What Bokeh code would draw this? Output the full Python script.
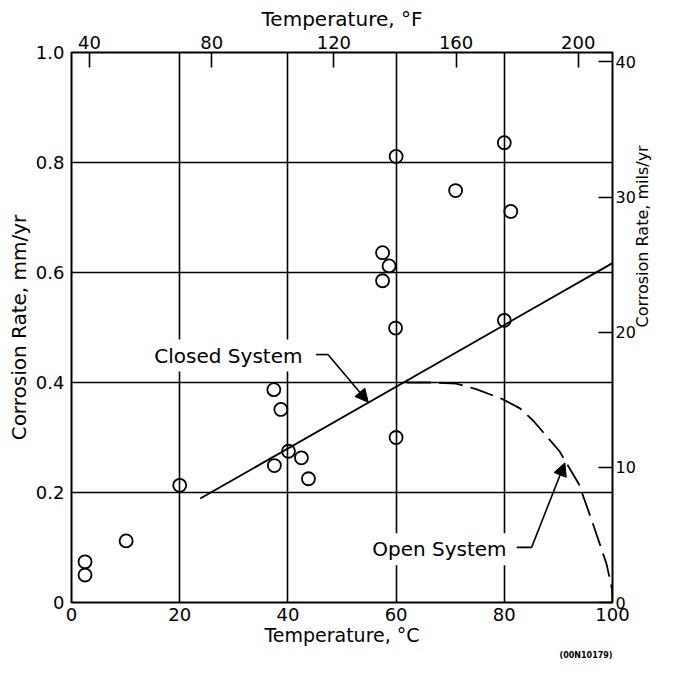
import math
from bokeh.plotting import figure
from bokeh.models import (Range1d, LinearAxis, FixedTicker, Label, Arrow, NormalHead, Title)
from bokeh.embed import file_html
from bokeh.resources import INLINE

# ---- data ----
temp_c = [2.5, 2.5, 10.1, 20.0, 37.5, 40.1, 42.5, 43.8, 37.4, 38.7, 60.0,
          60.0, 80.0, 71.0, 81.2, 57.5, 58.7, 57.5, 59.9, 80.0]
rate_mm = [0.074, 0.050, 0.112, 0.213, 0.249, 0.275, 0.263, 0.225, 0.387, 0.351, 0.300,
           0.811, 0.836, 0.749, 0.711, 0.636, 0.612, 0.585, 0.499, 0.513]

closed_x = [23.8, 100.0]
closed_y = [0.189, 0.617]

open_x = [62.0, 67.0, 71.1, 74.8, 79.6, 82.9, 85.4, 90.2, 93.8, 96.2, 98.9, 99.9, 100.0]
open_y = [0.400, 0.400, 0.398, 0.388, 0.370, 0.353, 0.330, 0.275, 0.215, 0.1485, 0.070, 0.025, 0.0]

x_ticks = [0, 20, 40, 60, 80, 100]
y_ticks = [0, 0.2, 0.4, 0.6, 0.8, 1.0]
y_labels = {0: "0", 0.2: "0.2", 0.4: "0.4", 0.6: "0.6", 0.8: "0.8", 1: "1.0"}
f_ticks = [40, 80, 120, 160, 200]
mils_ticks = [0, 10, 20, 30, 40]

FONT = "DejaVu Sans"

p = figure(width=664, height=659, output_backend="svg", toolbar_location=None,
           x_range=Range1d(0, 100), y_range=Range1d(0, 1.0),
           min_border_left=71, min_border_right=41, min_border_top=52, min_border_bottom=54,
           background_fill_color="white", border_fill_color="white")
p.outline_line_color = "black"
p.outline_line_width = 2
p.outline_line_alpha = 1

p.extra_x_ranges = {"F": Range1d(34.1, 211.2)}
p.extra_y_ranges = {"mils": Range1d(0, 40.7)}

xa = p.xaxis[0]
xa.ticker = FixedTicker(ticks=x_ticks)
xa.axis_label = "Temperature, °C"
ya = p.yaxis[0]
ya.ticker = FixedTicker(ticks=y_ticks)
ya.major_label_overrides = y_labels
ya.axis_label = "Corrosion Rate, mm/yr"

top = LinearAxis(x_range_name="F", ticker=FixedTicker(ticks=f_ticks),
                 axis_label="Temperature, °F")
right = LinearAxis(y_range_name="mils", ticker=FixedTicker(ticks=mils_ticks),
                   axis_label="Corrosion Rate, mils/yr")
p.add_layout(top, "above")
p.add_layout(right, "right")

for ax in [xa, ya, top, right]:
    ax.axis_line_color = None
    ax.minor_tick_line_color = None
    ax.major_tick_out = 0
    ax.major_tick_in = 0
    ax.major_tick_line_color = "black"
    ax.major_tick_line_width = 1.6
    ax.major_label_text_font = FONT
    ax.major_label_text_font_size = "18px"
    ax.major_label_text_color = "black"
    ax.axis_label_text_font = FONT
    ax.axis_label_text_font_size = "20px"
    ax.axis_label_text_font_style = "normal"
    ax.axis_label_text_color = "black"

ya.major_label_standoff = 7
ya.axis_label_standoff = 2
xa.major_label_standoff = 5
xa.axis_label_standoff = 0
xa.axis_label_text_font_size = "19px"
top.major_tick_in = 15
top.major_label_standoff = 4
top.axis_label_standoff = 2
right.major_tick_in = 14
right.major_label_standoff = 3
right.axis_label_standoff = 4
right.major_label_text_font_size = "16px"
right.axis_label_text_font_size = "16px"
right.axis_label_orientation = math.pi / 2

# footnote below the bottom axis
p.add_layout(Title(text="(00N10179)", align="right", text_font=FONT, text_font_size="8px",
                   text_font_style="bold", text_color="black", standoff=0), "below")

# grid
p.xgrid.ticker = FixedTicker(ticks=x_ticks[1:-1])
p.ygrid.ticker = FixedTicker(ticks=y_ticks[1:-1])
for g in [p.xgrid[0], p.ygrid[0]]:
    g.grid_line_color = "black"
    g.grid_line_width = 1.6
    g.grid_line_alpha = 1

# lines
p.line(closed_x, closed_y, line_color="black", line_width=1.8)
p.line(open_x, open_y, line_color="black", line_width=1.8, line_dash="24 8")

# points
p.scatter(temp_c, rate_mm, marker="circle", size=13, fill_alpha=0,
          line_color="black", line_width=1.8)

# annotations: leaders and arrows
p.line([45.2, 47.4], [0.4508, 0.4508], line_color="black", line_width=1.6)
p.add_layout(Arrow(x_start=47.4, y_start=0.4508, x_end=54.85, y_end=0.364,
                   line_color="black", line_width=1.6,
                   end=NormalHead(size=13, fill_color="black", line_color="black", line_width=1)))
p.line([82.3, 85.05], [0.1003, 0.1003], line_color="black", line_width=1.6)
p.add_layout(Arrow(x_start=85.05, y_start=0.1003, x_end=91.2, y_end=0.254,
                   line_color="black", line_width=1.6,
                   end=NormalHead(size=13, fill_color="black", line_color="black", line_width=1)))

p.add_layout(Label(x=29.0, y=0.449, text="Closed System", text_font=FONT, text_color="black",
                   text_font_size="20px", text_align="center", text_baseline="middle",
                   background_fill_color="white", padding=4))
p.add_layout(Label(x=68.0, y=0.0967, text="Open System", text_font=FONT, text_color="black",
                   text_font_size="20px", text_align="center", text_baseline="middle",
                   background_fill_color="white", padding=4))

open("out.html", "w").write(file_html(p, INLINE))
